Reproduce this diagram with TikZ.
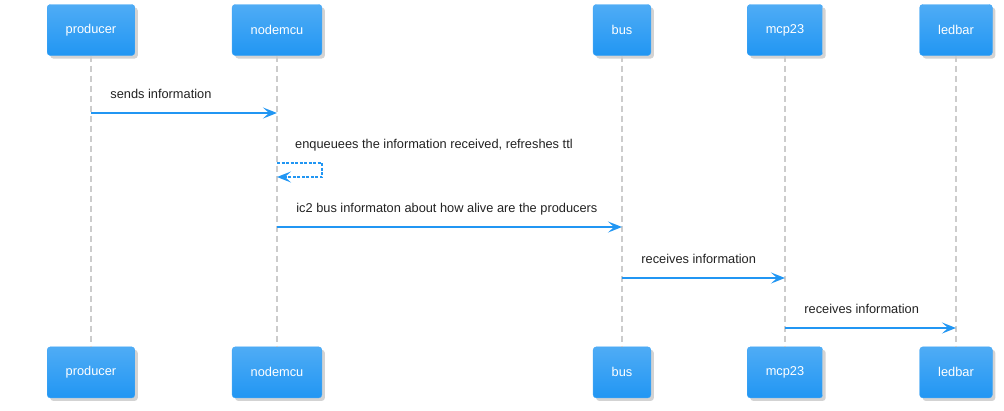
\documentclass[tikz,border=0pt]{standalone}
\usepackage{fontspec}
\setmainfont{Liberation Sans}
\usetikzlibrary{positioning,shadows,arrows.meta}
\definecolor{umlblue}{HTML}{2196F3}
\definecolor{umllight}{HTML}{4FACF5}
\definecolor{lifegray}{HTML}{CCCCCC}
\definecolor{msgtext}{HTML}{222222}

\begin{document}
\begin{tikzpicture}[x=1pt,y=-1pt,
    participant/.style={rectangle, rounded corners=3pt, draw=umlblue!85!white,
      top color=umllight, bottom color=umlblue, text=white,
      minimum height=51pt, inner xsep=18.5pt, font=\fontsize{12.8}{15}\selectfont,
      drop shadow={shadow xshift=3pt, shadow yshift=-3pt, opacity=.35}},
    lifeline/.style={draw=lifegray, line width=1.7pt, dash pattern=on 6pt off 4pt},
    msg/.style={draw=umlblue, line width=2.8pt,
      -{Stealth[length=14pt, width=11pt, inset=6pt]}},
    selfmsg/.style={draw=umlblue, line width=2.6pt, dash pattern=on 3pt off 1.5pt,
      -{Stealth[length=14pt, width=11pt, inset=6pt]}},
    msglabel/.style={anchor=base west, text=msgtext, inner sep=0pt,
      font=\fontsize{12.8}{15}\selectfont, xshift=18pt, yshift=15pt}]
    \useasboundingbox (0,0) rectangle (1004,410);

    % participants
    \node [participant] (producer) at (91,30) {producer};
    \node [participant] (nodemcu) at (277,30) {nodemcu};
    \node [participant] (bus) at (622,30) {bus};
    \node [participant] (mcp23) at (785,30) {mcp23};
    \node [participant] (ledbar) at (956,30) {ledbar};
    \node [participant] [below=291pt of producer] (producer-b) {producer};
    \node [participant] [below=291pt of nodemcu] (nodemcu-b) {nodemcu};
    \node [participant] [below=291pt of bus] (bus-b) {bus};
    \node [participant] [below=291pt of mcp23] (mcp23-b) {mcp23};
    \node [participant] [below=291pt of ledbar] (ledbar-b) {ledbar};

    % lifelines
    \foreach \p in {producer,nodemcu,bus,mcp23,ledbar}
      \draw [lifeline] (\p) -- (\p-b);

    % message rows
    \coordinate (r1) at (0,113);
    \coordinate (r2) at (0,163);
    \coordinate (r2b) at (0,177);
    \coordinate (r3) at (0,227);
    \coordinate (r4) at (0,278);
    \coordinate (r5) at (0,328);

    \draw [msg] (producer |- r1) -- (nodemcu |- r1)
      node [msglabel, pos=0] {sends information};
    \draw [selfmsg] (nodemcu |- r2) -- ++(45,0) -- ++(0,14) -- (nodemcu |- r2b);
    \path (nodemcu |- r2) node [msglabel] {enqueuees the information received, refreshes ttl};
    \draw [msg] (nodemcu |- r3) -- (bus |- r3)
      node [msglabel, pos=0] {ic2 bus informaton about how alive are the producers};
    \draw [msg] (bus |- r4) -- (mcp23 |- r4)
      node [msglabel, pos=0] {receives information};
    \draw [msg] (mcp23 |- r5) -- (ledbar |- r5)
      node [msglabel, pos=0] {receives information};
\end{tikzpicture}
\end{document}
